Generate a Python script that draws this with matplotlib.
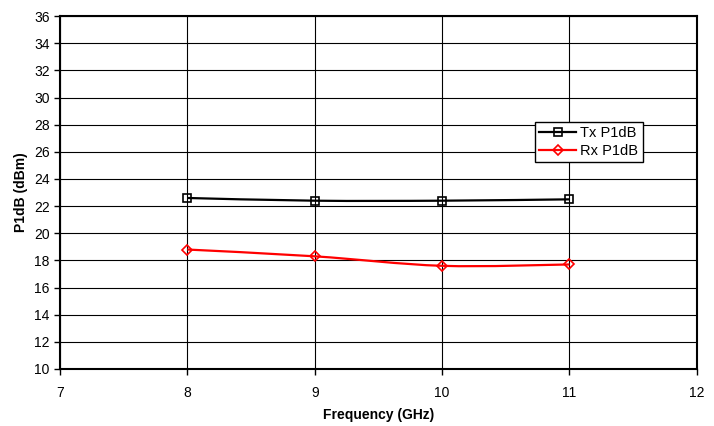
import numpy as np
import matplotlib.pyplot as plt
from matplotlib.path import Path
from matplotlib.patches import PathPatch

plt.rcParams['font.family'] = ['Liberation Sans', 'DejaVu Sans']

freq = [8, 9, 10, 11]
tx_p1db = [22.6, 22.4, 22.4, 22.5]
rx_p1db = [18.8, 18.3, 17.6, 17.7]


def smooth_path(x, y):
    # Excel style smoothed line: cubic bezier through the points
    pts = np.column_stack([x, y]).astype(float)
    ext = np.vstack([pts[0], pts, pts[-1]])
    verts = [pts[0]]
    codes = [Path.MOVETO]
    for i in range(len(pts) - 1):
        p0, p1, p2, p3 = ext[i], ext[i + 1], ext[i + 2], ext[i + 3]
        verts += [p1 + (p2 - p0) / 6, p2 - (p3 - p1) / 6, p2]
        codes += [Path.CURVE4] * 3
    return Path(verts, codes)


fig = plt.figure(figsize=(7.14, 4.26), dpi=100)
ax = fig.add_axes([0.084, 0.134, 0.892, 0.828])

ax.set_xlim(7, 12)
ax.set_ylim(10, 36)
ax.set_xticks(range(7, 13))
ax.set_yticks(range(10, 37, 2))
ax.grid(True, color='black', linewidth=0.8)
ax.set_axisbelow(True)

ax.add_patch(PathPatch(smooth_path(freq, tx_p1db), fill=False, edgecolor='black', lw=1.6, zorder=3))
ax.add_patch(PathPatch(smooth_path(freq, rx_p1db), fill=False, edgecolor='red', lw=1.6, zorder=3))
ax.plot(freq, tx_p1db, ls='none', marker='s', ms=6, mfc='none', mec='black', mew=1.2, zorder=4)
ax.plot(freq, rx_p1db, ls='none', marker='D', ms=5.5, mfc='none', mec='red', mew=1.2, zorder=4)

# legend handles
ax.plot([], [], color='black', lw=1.6, marker='s', ms=6, mfc='none', mec='black', mew=1.2, label='Tx P1dB')
ax.plot([], [], color='red', lw=1.6, marker='D', ms=5.5, mfc='none', mec='red', mew=1.2, label='Rx P1dB')
leg = ax.legend(loc='upper left', bbox_to_anchor=(0.746, 0.70), fancybox=False, framealpha=1,
                edgecolor='black', fontsize=10.5, handlelength=2.5, borderpad=0.3,
                labelspacing=0.25, handletextpad=0.3, borderaxespad=0)
leg.get_frame().set_linewidth(1.0)

for s in ax.spines.values():
    s.set_linewidth(1.5)
ax.tick_params(direction='out', length=4, width=1, labelsize=10, colors='black')
ax.tick_params(axis='x', pad=8)

ax.set_xlabel('Frequency (GHz)', fontweight='bold', fontsize=10, labelpad=6)
ax.set_ylabel('P1dB (dBm)', fontweight='bold', fontsize=10, labelpad=4)

fig.savefig('out.png', dpi=100)
